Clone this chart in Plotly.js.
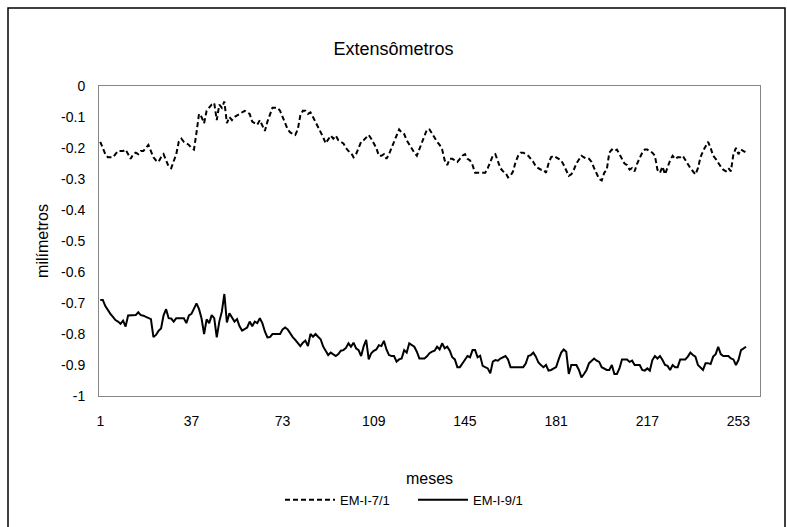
<!DOCTYPE html>
<html>
<head>
<meta charset="utf-8">
<script src="https://cdn.plot.ly/plotly-3.0.1.min.js"></script>
<style>
  html, body { margin: 0; padding: 0; background: #fff; }
  #chart { width: 787px; height: 527px; }
</style>
</head>
<body>
<div id="chart"></div>
<script>
// EM-I-7/1 (dashed), months 1..256
const em7 = [
 -0.18,-0.20,-0.22,-0.23,-0.23,-0.23,-0.22,-0.21,-0.21,-0.21,
 -0.205,-0.22,-0.235,-0.22,-0.215,-0.22,-0.21,-0.21,-0.20,-0.19,
 -0.21,-0.23,-0.24,-0.245,-0.23,-0.22,-0.24,-0.26,-0.265,-0.245,
 -0.22,-0.18,-0.17,-0.18,-0.185,-0.19,-0.20,-0.205,-0.15,-0.09,
 -0.10,-0.12,-0.08,-0.07,-0.06,-0.055,-0.11,-0.06,-0.07,-0.05,
 -0.12,-0.10,-0.11,-0.10,-0.095,-0.09,-0.085,-0.08,-0.085,-0.09,
 -0.115,-0.12,-0.125,-0.11,-0.125,-0.145,-0.115,-0.09,-0.07,-0.07,
 -0.07,-0.08,-0.10,-0.12,-0.14,-0.15,-0.155,-0.158,-0.14,-0.095,
 -0.08,-0.08,-0.09,-0.085,-0.10,-0.115,-0.135,-0.15,-0.165,-0.185,
 -0.17,-0.16,-0.17,-0.16,-0.175,-0.18,-0.185,-0.20,-0.21,-0.215,
 -0.23,-0.22,-0.20,-0.18,-0.175,-0.165,-0.158,-0.17,-0.185,-0.20,
 -0.225,-0.225,-0.22,-0.235,-0.22,-0.20,-0.175,-0.155,-0.14,-0.15,
 -0.155,-0.175,-0.19,-0.20,-0.215,-0.225,-0.205,-0.18,-0.16,-0.14,
 -0.14,-0.155,-0.165,-0.18,-0.19,-0.205,-0.24,-0.255,-0.235,-0.235,
 -0.24,-0.245,-0.235,-0.225,-0.22,-0.235,-0.24,-0.255,-0.28,-0.28,
 -0.28,-0.28,-0.28,-0.265,-0.245,-0.225,-0.22,-0.24,-0.265,-0.275,
 -0.28,-0.295,-0.29,-0.275,-0.245,-0.225,-0.215,-0.215,-0.22,-0.225,
 -0.235,-0.245,-0.26,-0.265,-0.27,-0.27,-0.28,-0.25,-0.23,-0.225,
 -0.23,-0.235,-0.24,-0.255,-0.27,-0.29,-0.285,-0.27,-0.25,-0.235,
 -0.225,-0.23,-0.235,-0.235,-0.245,-0.265,-0.285,-0.30,-0.305,-0.28,
 -0.27,-0.215,-0.205,-0.21,-0.205,-0.22,-0.235,-0.25,-0.255,-0.27,
 -0.265,-0.275,-0.25,-0.23,-0.215,-0.205,-0.205,-0.21,-0.215,-0.225,
 -0.27,-0.28,-0.26,-0.285,-0.26,-0.24,-0.225,-0.235,-0.23,-0.23,
 -0.225,-0.24,-0.255,-0.265,-0.275,-0.285,-0.265,-0.23,-0.21,-0.195,
 -0.18,-0.20,-0.225,-0.235,-0.25,-0.26,-0.27,-0.275,-0.265,-0.275,
 -0.22,-0.20,-0.22,-0.205,-0.21,-0.215
];
// EM-I-9/1 (solid), months 1..256
const em9 = [
 -0.69,-0.69,-0.71,-0.725,-0.735,-0.745,-0.755,-0.76,-0.767,-0.757,
 -0.776,-0.74,-0.739,-0.739,-0.739,-0.73,-0.739,-0.741,-0.745,-0.749,
 -0.752,-0.81,-0.803,-0.79,-0.782,-0.74,-0.72,-0.749,-0.75,-0.76,
 -0.749,-0.749,-0.749,-0.749,-0.765,-0.74,-0.735,-0.717,-0.701,-0.72,
 -0.75,-0.80,-0.753,-0.765,-0.739,-0.749,-0.811,-0.76,-0.728,-0.671,
 -0.763,-0.733,-0.745,-0.76,-0.752,-0.775,-0.789,-0.785,-0.779,-0.76,
 -0.775,-0.76,-0.765,-0.749,-0.765,-0.792,-0.811,-0.81,-0.80,-0.80,
 -0.80,-0.80,-0.785,-0.779,-0.785,-0.80,-0.81,-0.819,-0.83,-0.839,
 -0.828,-0.821,-0.839,-0.80,-0.809,-0.80,-0.809,-0.817,-0.84,-0.852,
 -0.868,-0.86,-0.865,-0.871,-0.865,-0.854,-0.852,-0.845,-0.83,-0.841,
 -0.828,-0.846,-0.852,-0.871,-0.84,-0.819,-0.882,-0.862,-0.854,-0.85,
 -0.836,-0.839,-0.822,-0.85,-0.868,-0.871,-0.871,-0.889,-0.882,-0.879,
 -0.852,-0.86,-0.83,-0.835,-0.841,-0.857,-0.879,-0.879,-0.879,-0.872,
 -0.862,-0.857,-0.854,-0.841,-0.85,-0.83,-0.846,-0.841,-0.854,-0.875,
 -0.882,-0.907,-0.907,-0.895,-0.884,-0.871,-0.875,-0.852,-0.852,-0.875,
 -0.87,-0.903,-0.907,-0.911,-0.927,-0.889,-0.884,-0.886,-0.879,-0.875,
 -0.871,-0.882,-0.907,-0.907,-0.907,-0.907,-0.907,-0.907,-0.895,-0.871,
 -0.868,-0.86,-0.873,-0.892,-0.90,-0.907,-0.90,-0.918,-0.916,-0.911,
 -0.907,-0.882,-0.86,-0.85,-0.857,-0.929,-0.90,-0.90,-0.90,-0.916,
 -0.94,-0.929,-0.916,-0.894,-0.885,-0.879,-0.886,-0.89,-0.907,-0.912,
 -0.916,-0.916,-0.90,-0.929,-0.929,-0.911,-0.882,-0.882,-0.882,-0.89,
 -0.886,-0.90,-0.90,-0.90,-0.916,-0.918,-0.911,-0.918,-0.884,-0.871,
 -0.879,-0.871,-0.884,-0.90,-0.903,-0.916,-0.90,-0.907,-0.907,-0.882,
 -0.882,-0.882,-0.873,-0.86,-0.868,-0.873,-0.90,-0.907,-0.916,-0.894,
 -0.894,-0.897,-0.873,-0.865,-0.841,-0.865,-0.871,-0.871,-0.871,-0.879,
 -0.882,-0.90,-0.884,-0.852,-0.845,-0.841
];
const months = em7.map((_, i) => i + 1);
const xTickVals = [1, 37, 73, 109, 145, 181, 217, 253];
const yTickVals = [0, -0.1, -0.2, -0.3, -0.4, -0.5, -0.6, -0.7, -0.8, -0.9, -1];
const yTickText = ["0", "-0.1", "-0.2", "-0.3", "-0.4", "-0.5", "-0.6", "-0.7", "-0.8", "-0.9", "-1"];
const seriesNames = ["EM-I-7/1", "EM-I-9/1"];

const FONT = '"Liberation Sans Narrow", "Liberation Sans", Arial, sans-serif';

const traces = [
  {
    x: months, y: em7, name: seriesNames[0], type: 'scatter', mode: 'lines',
    line: { color: '#000000', width: 2, dash: '5px,3px' }
  },
  {
    x: months, y: em9, name: seriesNames[1], type: 'scatter', mode: 'lines',
    line: { color: '#000000', width: 2 }
  }
];

const layout = {
  width: 787, height: 527,
  margin: { l: 99, r: 27, t: 86, b: 131 },
  paper_bgcolor: '#ffffff', plot_bgcolor: '#ffffff',
  font: { family: FONT, color: '#000000', size: 13 },
  title: {
    text: 'Extensômetros',
    font: { family: FONT, size: 18, color: '#000000' },
    x: 0.5, xref: 'container', xanchor: 'center',
    y: 1 - 49 / 527, yref: 'container', yanchor: 'middle'
  },
  xaxis: {
    range: [0.5, 261.5],
    tickmode: 'array', tickvals: xTickVals, ticktext: xTickVals.map(String),
    showgrid: false, zeroline: false,
    showline: true, linecolor: '#868686', linewidth: 1, mirror: true,
    ticks: '', ticklabelstandoff: 12,
    tickfont: { family: FONT, size: 14 },
    title: { text: 'meses', font: { family: FONT, size: 16 }, standoff: 45 }
  },
  yaxis: {
    range: [-1, 0],
    tickmode: 'array', tickvals: yTickVals, ticktext: yTickText,
    showgrid: false, zeroline: false,
    showline: true, linecolor: '#868686', linewidth: 1, mirror: true,
    ticks: '', ticklabelstandoff: 10,
    tickfont: { family: FONT, size: 14 },
    title: { text: 'milímetros', font: { family: FONT, size: 16 }, standoff: 8 }
  },
  showlegend: true,
  legend: {
    orientation: 'h', x: 0.475, xanchor: 'center', y: -0.335, yanchor: 'middle',
    itemwidth: 50, entrywidth: 68, entrywidthmode: 'pixels',
    font: { family: FONT, size: 13 }, bgcolor: 'rgba(0,0,0,0)'
  },
  shapes: [
    { type: 'rect', xref: 'paper', yref: 'paper',
      x0: (8 - 99) / 661, x1: (785 - 99) / 661,
      y0: (396 - 540) / 310, y1: (396 - 8) / 310,
      line: { color: '#000000', width: 1.5 }, fillcolor: 'rgba(0,0,0,0)', layer: 'below' }
  ]
};

Plotly.newPlot('chart', traces, layout, { displayModeBar: false, staticPlot: true });
</script>
</body>
</html>
